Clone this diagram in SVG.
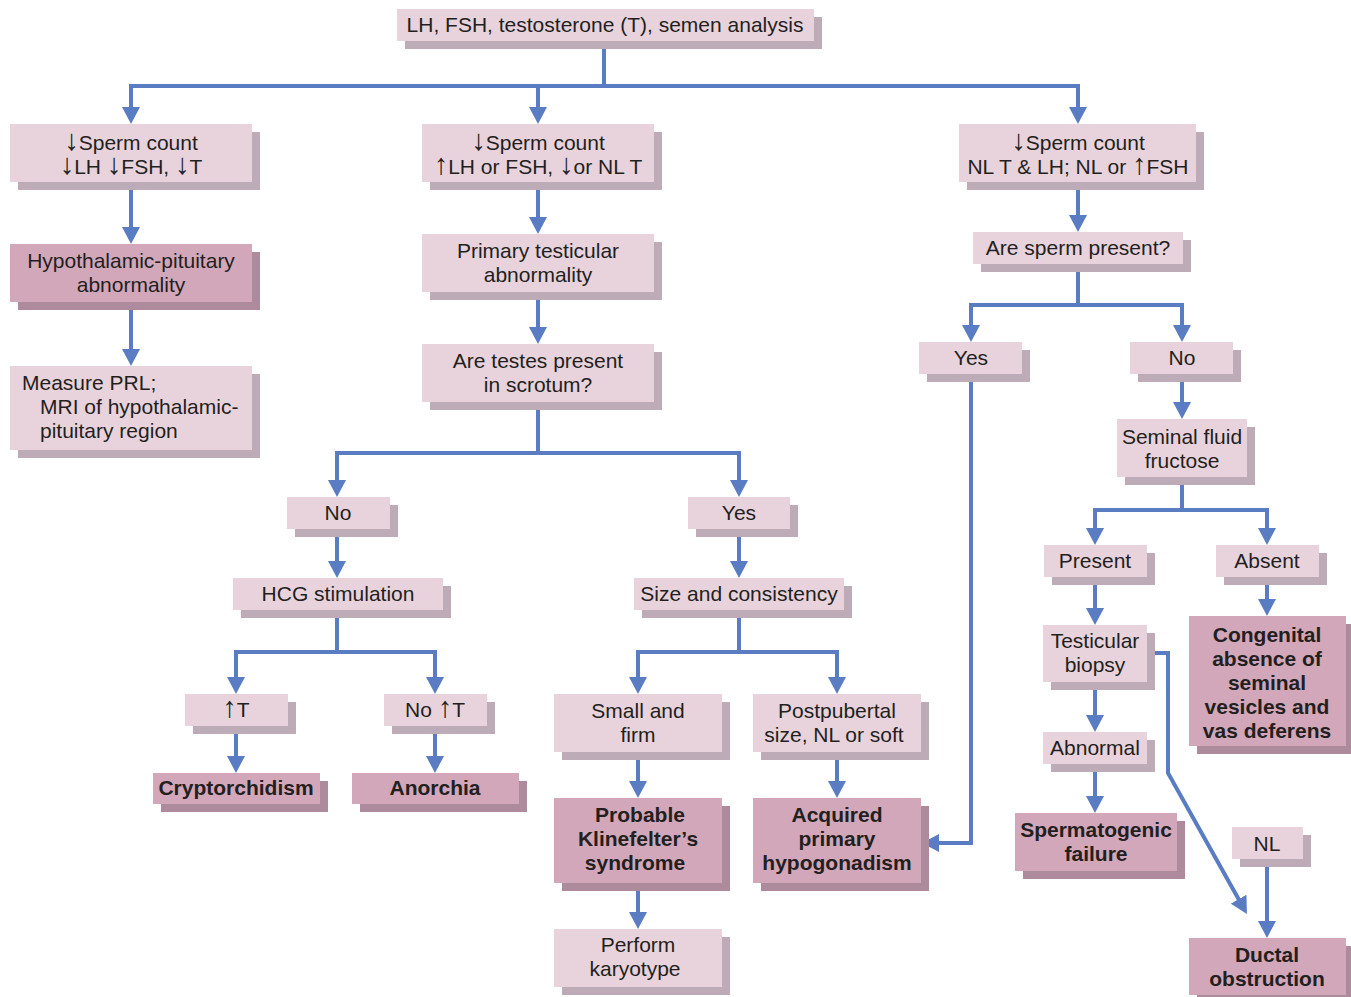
<svg xmlns="http://www.w3.org/2000/svg" width="1351" height="997" viewBox="0 0 1351 997">
<style>
.bg{fill:#ffffff}
.sh{fill:#bdabb7}
.box{fill:#e8d3dc}
.dsh{fill:#ad8b9c}
.dbox{fill:#d2a7ba}
text{font-family:"Liberation Sans",Arial,sans-serif;font-size:21px;fill:#231f20;text-anchor:middle}
.ar{font-size:29px}
.b{font-weight:bold}
.l{text-anchor:start}
.c{fill:none;stroke:#5a7cc2;stroke-width:4;stroke-linejoin:miter}
</style>
<defs>
<marker id="ah" markerUnits="userSpaceOnUse" markerWidth="17" markerHeight="18" viewBox="0 0 17 18" refX="9" refY="9" orient="auto">
<path d="M0,0 L17,9 L0,18 Z" fill="#5a7cc2"/>
</marker>
</defs>
<rect class="bg" x="0" y="0" width="1351" height="997"/>

<g id="connectors">
<path class="c" d="M604,41 V86"/>
<path class="c" d="M538,86 H131 V116" marker-end="url(#ah)"/>
<path class="c" d="M538,86 H1078 V116" marker-end="url(#ah)"/>
<path class="c" d="M538,86 V116" marker-end="url(#ah)"/>
<path class="c" d="M131,182 V236" marker-end="url(#ah)"/>
<path class="c" d="M131,302 V358" marker-end="url(#ah)"/>
<path class="c" d="M538,182 V226" marker-end="url(#ah)"/>
<path class="c" d="M538,292 V336" marker-end="url(#ah)"/>
<path class="c" d="M538,402 V453"/>
<path class="c" d="M538,453 H337 V489" marker-end="url(#ah)"/>
<path class="c" d="M538,453 H739 V489" marker-end="url(#ah)"/>
<path class="c" d="M337,529 V570" marker-end="url(#ah)"/>
<path class="c" d="M337,610 V652"/>
<path class="c" d="M337,652 H236 V686" marker-end="url(#ah)"/>
<path class="c" d="M337,652 H435 V686" marker-end="url(#ah)"/>
<path class="c" d="M236,726 V765" marker-end="url(#ah)"/>
<path class="c" d="M435,726 V765" marker-end="url(#ah)"/>
<path class="c" d="M739,529 V570" marker-end="url(#ah)"/>
<path class="c" d="M739,610 V652"/>
<path class="c" d="M739,652 H638 V686" marker-end="url(#ah)"/>
<path class="c" d="M739,652 H837 V686" marker-end="url(#ah)"/>
<path class="c" d="M638,752 V790" marker-end="url(#ah)"/>
<path class="c" d="M837,752 V790" marker-end="url(#ah)"/>
<path class="c" d="M638,883 V921" marker-end="url(#ah)"/>
<path class="c" d="M1078,182 V224" marker-end="url(#ah)"/>
<path class="c" d="M1078,264 V305"/>
<path class="c" d="M1078,305 H971 V334" marker-end="url(#ah)"/>
<path class="c" d="M1078,305 H1182 V334" marker-end="url(#ah)"/>
<path class="c" d="M971,374 V843 H930" marker-end="url(#ah)"/>
<path class="c" d="M1182,374 V411" marker-end="url(#ah)"/>
<path class="c" d="M1182,477 V510"/>
<path class="c" d="M1182,510 H1095 V537" marker-end="url(#ah)"/>
<path class="c" d="M1182,510 H1267 V537" marker-end="url(#ah)"/>
<path class="c" d="M1095,577 V617" marker-end="url(#ah)"/>
<path class="c" d="M1267,577 V608" marker-end="url(#ah)"/>
<path class="c" d="M1095,682 V724" marker-end="url(#ah)"/>
<path class="c" d="M1095,764 V805" marker-end="url(#ah)"/>
<path class="c" d="M1267,859 V930" marker-end="url(#ah)"/>
<path class="c" d="M1147,653 H1168 V773 L1243,907" marker-end="url(#ah)"/>
</g>

<g id="n-top"><rect class="sh" x="405" y="17" width="417" height="32"/><rect class="box" x="397" y="9" width="417" height="32"/><text x="605" y="32">LH, FSH, testosterone (T), semen analysis</text></g>

<g id="n-a"><rect class="sh" x="18" y="132" width="242" height="58"/><rect class="box" x="10" y="124" width="242" height="58"/><text x="131" y="150"><tspan class="ar">↓</tspan>Sperm count</text><text x="131" y="174"><tspan class="ar">↓</tspan>LH <tspan class="ar">↓</tspan>FSH, <tspan class="ar">↓</tspan>T</text></g>
<g id="n-b"><rect class="sh" x="430" y="132" width="232" height="58"/><rect class="box" x="422" y="124" width="232" height="58"/><text x="538" y="150"><tspan class="ar">↓</tspan>Sperm count</text><text x="538" y="174"><tspan class="ar">↑</tspan>LH or FSH, <tspan class="ar">↓</tspan>or NL T</text></g>
<g id="n-c"><rect class="sh" x="967" y="132" width="237" height="58"/><rect class="box" x="959" y="124" width="237" height="58"/><text x="1078" y="150"><tspan class="ar">↓</tspan>Sperm count</text><text x="1078" y="174">NL T &amp; LH; NL or <tspan class="ar">↑</tspan>FSH</text></g>

<g id="n-hyp"><rect class="dsh" x="18" y="252" width="242" height="58"/><rect class="dbox" x="10" y="244" width="242" height="58"/><text x="131" y="268">Hypothalamic-pituitary</text><text x="131" y="292">abnormality</text></g>
<g id="n-measure"><rect class="sh" x="18" y="374" width="242" height="84"/><rect class="box" x="10" y="366" width="242" height="84"/><text class="l" x="22" y="390">Measure PRL;</text><text class="l" x="40" y="414">MRI of hypothalamic-</text><text class="l" x="40" y="438">pituitary region</text></g>

<g id="n-primary"><rect class="sh" x="430" y="242" width="232" height="58"/><rect class="box" x="422" y="234" width="232" height="58"/><text x="538" y="258">Primary testicular</text><text x="538" y="282">abnormality</text></g>
<g id="n-testes"><rect class="sh" x="430" y="352" width="232" height="58"/><rect class="box" x="422" y="344" width="232" height="58"/><text x="538" y="368">Are testes present</text><text x="538" y="392">in scrotum?</text></g>

<g id="n-no1"><rect class="sh" x="295" y="505" width="103" height="32"/><rect class="box" x="287" y="497" width="103" height="32"/><text x="338" y="520">No</text></g>
<g id="n-yes1"><rect class="sh" x="696" y="505" width="102" height="32"/><rect class="box" x="688" y="497" width="102" height="32"/><text x="739" y="520">Yes</text></g>
<g id="n-hcg"><rect class="sh" x="241" y="586" width="210" height="32"/><rect class="box" x="233" y="578" width="210" height="32"/><text x="338" y="601">HCG stimulation</text></g>
<g id="n-size"><rect class="sh" x="642" y="586" width="210" height="32"/><rect class="box" x="634" y="578" width="210" height="32"/><text x="739" y="601">Size and consistency</text></g>

<g id="n-upt"><rect class="sh" x="193" y="702" width="103" height="32"/><rect class="box" x="185" y="694" width="103" height="32"/><text x="236" y="717"><tspan class="ar">↑</tspan>T</text></g>
<g id="n-noupt"><rect class="sh" x="392" y="702" width="103" height="32"/><rect class="box" x="384" y="694" width="103" height="32"/><text x="435" y="717">No <tspan class="ar">↑</tspan>T</text></g>
<g id="n-crypt"><rect class="dsh" x="161" y="781" width="167" height="31"/><rect class="dbox" x="153" y="773" width="167" height="31"/><text class="b" x="236" y="795">Cryptorchidism</text></g>
<g id="n-anorchia"><rect class="dsh" x="360" y="781" width="167" height="31"/><rect class="dbox" x="352" y="773" width="167" height="31"/><text class="b" x="435" y="795">Anorchia</text></g>

<g id="n-small"><rect class="sh" x="562" y="702" width="168" height="58"/><rect class="box" x="554" y="694" width="168" height="58"/><text x="638" y="718">Small and</text><text x="638" y="742">firm</text></g>
<g id="n-post"><rect class="sh" x="761" y="702" width="168" height="58"/><rect class="box" x="753" y="694" width="168" height="58"/><text x="837" y="718">Postpubertal</text><text x="834" y="742">size, NL or soft</text></g>
<g id="n-kline"><rect class="dsh" x="562" y="806" width="168" height="85"/><rect class="dbox" x="554" y="798" width="168" height="85"/><text class="b" x="640" y="822">Probable</text><text class="b" x="638" y="846">Klinefelter’s</text><text class="b" x="635" y="870">syndrome</text></g>
<g id="n-acq"><rect class="dsh" x="761" y="806" width="168" height="85"/><rect class="dbox" x="753" y="798" width="168" height="85"/><text class="b" x="837" y="822">Acquired</text><text class="b" x="837" y="846">primary</text><text class="b" x="837" y="870">hypogonadism</text></g>
<g id="n-karyo"><rect class="sh" x="562" y="937" width="168" height="58"/><rect class="box" x="554" y="929" width="168" height="58"/><text x="638" y="952">Perform</text><text x="635" y="976">karyotype</text></g>

<g id="n-sperm"><rect class="sh" x="981" y="240" width="210" height="32"/><rect class="box" x="973" y="232" width="210" height="32"/><text x="1078" y="255">Are sperm present?</text></g>
<g id="n-yes2"><rect class="sh" x="927" y="350" width="103" height="32"/><rect class="box" x="919" y="342" width="103" height="32"/><text x="971" y="365">Yes</text></g>
<g id="n-no2"><rect class="sh" x="1138" y="350" width="103" height="32"/><rect class="box" x="1130" y="342" width="103" height="32"/><text x="1182" y="365">No</text></g>
<g id="n-seminal"><rect class="sh" x="1125" y="427" width="130" height="58"/><rect class="box" x="1117" y="419" width="130" height="58"/><text x="1182" y="444">Seminal fluid</text><text x="1182" y="468">fructose</text></g>
<g id="n-present"><rect class="sh" x="1052" y="553" width="103" height="32"/><rect class="box" x="1044" y="545" width="103" height="32"/><text x="1095" y="568">Present</text></g>
<g id="n-absent"><rect class="sh" x="1224" y="553" width="103" height="32"/><rect class="box" x="1216" y="545" width="103" height="32"/><text x="1267" y="568">Absent</text></g>
<g id="n-biopsy"><rect class="sh" x="1051" y="633" width="104" height="57"/><rect class="box" x="1043" y="625" width="104" height="57"/><text x="1095" y="648">Testicular</text><text x="1095" y="672">biopsy</text></g>
<g id="n-congenital"><rect class="dsh" x="1197" y="624" width="157" height="130"/><rect class="dbox" x="1189" y="616" width="157" height="130"/><text class="b" x="1267" y="642">Congenital</text><text class="b" x="1267" y="666">absence of</text><text class="b" x="1267" y="690">seminal</text><text class="b" x="1267" y="714">vesicles and</text><text class="b" x="1267" y="738">vas deferens</text></g>
<g id="n-abnormal"><rect class="sh" x="1051" y="740" width="104" height="32"/><rect class="box" x="1043" y="732" width="104" height="32"/><text x="1095" y="755">Abnormal</text></g>
<g id="n-spermato"><rect class="dsh" x="1023" y="821" width="162" height="58"/><rect class="dbox" x="1015" y="813" width="162" height="58"/><text class="b" x="1096" y="837">Spermatogenic</text><text class="b" x="1096" y="861">failure</text></g>
<g id="n-nl"><rect class="sh" x="1240" y="835" width="71" height="32"/><rect class="box" x="1232" y="827" width="71" height="32"/><text x="1267" y="851">NL</text></g>
<g id="n-ductal"><rect class="dsh" x="1197" y="946" width="157" height="57"/><rect class="dbox" x="1189" y="938" width="157" height="57"/><text class="b" x="1267" y="962">Ductal</text><text class="b" x="1267" y="986">obstruction</text></g>
</svg>
